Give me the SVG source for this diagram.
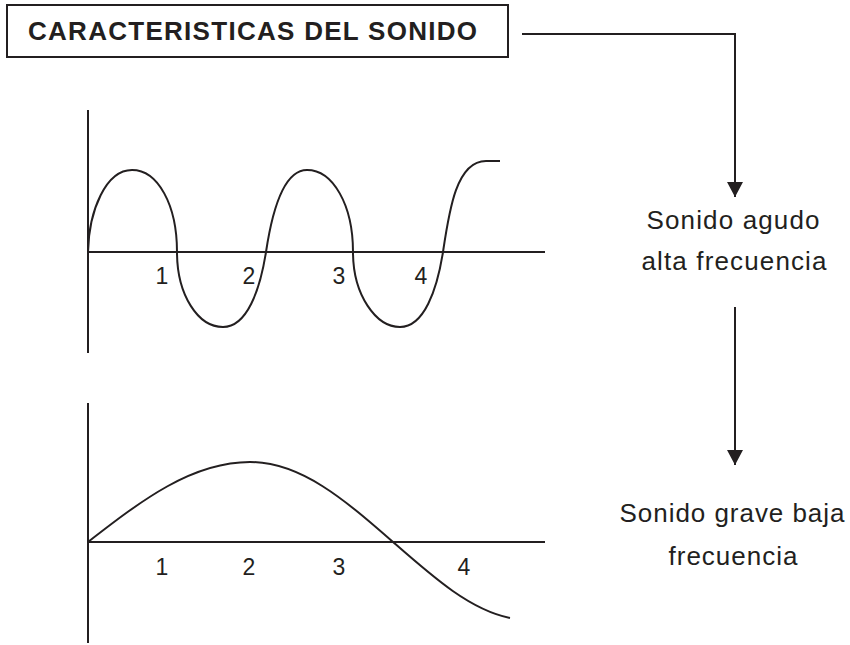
<svg xmlns="http://www.w3.org/2000/svg" width="850" height="645" viewBox="0 0 850 645">
<style>
.ln{fill:none;stroke:#231f20;stroke-width:2}
.t{font-family:"Liberation Sans",Arial,sans-serif;fill:#231f20}
.lbl{font-size:26px;text-anchor:middle}
.num{font-size:23px;text-anchor:middle}
</style>
<defs>
<marker id="ah" markerWidth="16" markerHeight="16" viewBox="0 0 16 16" refX="15" refY="8" orient="auto" markerUnits="userSpaceOnUse">
<path d="M0,0 L15,8 L0,16 Z" fill="#231f20"/>
</marker>
</defs>
<rect width="850" height="645" fill="#ffffff"/>
<g id="title">
<rect x="7" y="5" width="501" height="52" class="ln"/>
<text class="t" x="28" y="40" font-size="26" font-weight="bold" textLength="449" lengthAdjust="spacing">CARACTERISTICAS DEL SONIDO</text>
</g>
<g id="agudo">
<text class="t lbl" x="733" y="229" textLength="173" lengthAdjust="spacing">Sonido agudo</text>
<text class="t lbl" x="734" y="270" textLength="185" lengthAdjust="spacing">alta frecuencia</text>
</g>
<g id="grave">
<text class="t lbl" x="732" y="522" textLength="225" lengthAdjust="spacing">Sonido grave baja</text>
<text class="t lbl" x="733" y="565" textLength="129" lengthAdjust="spacing">frecuencia</text>
</g>
<g id="graph-high">
<line x1="88" y1="110" x2="88" y2="353" class="ln"/>
<line x1="88" y1="252" x2="545" y2="252" class="ln"/>
<path class="ln" d="M88,252 C89,210 106,170 132,170 C158,170 177,205 177,252 C177,295 198,327 223,327 C247,327 260,290 266,252 C272,212 283,170 307,170 C333,170 353,205 353,252 C353,295 376,327 400,327 C424,327 437,290 443,252 C449,212 456,161 486,161 L500,161"/>
<text class="t num" x="162" y="284">1</text>
<text class="t num" x="249" y="284">2</text>
<text class="t num" x="339" y="284">3</text>
<text class="t num" x="421" y="284">4</text>
</g>
<g id="graph-low">
<line x1="88" y1="403" x2="88" y2="643" class="ln"/>
<line x1="88" y1="542" x2="545" y2="542" class="ln"/>
<path class="ln" d="M88,542 C142,500 192,462 250,462 C301,462 345,500 393,542 C433,577 470,610 510,618"/>
<text class="t num" x="162" y="575">1</text>
<text class="t num" x="249" y="575">2</text>
<text class="t num" x="339" y="575">3</text>
<text class="t num" x="464" y="575">4</text>
</g>
<g id="connectors">
<path class="ln" d="M522,34 L735,34 L735,197" marker-end="url(#ah)"/>
<path class="ln" d="M735,307 L735,465" marker-end="url(#ah)"/>
</g>
</svg>
